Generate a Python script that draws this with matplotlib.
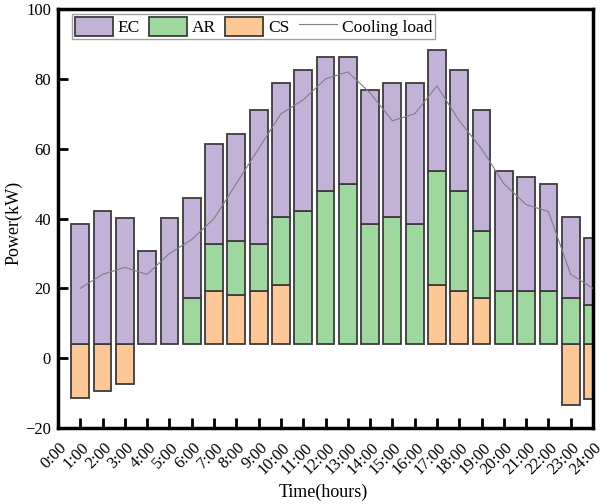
import numpy as np
import matplotlib
matplotlib.use("Agg")
import matplotlib.pyplot as plt
from matplotlib.transforms import blended_transform_factory

plt.rcParams['font.family'] = ['Liberation Serif', 'DejaVu Serif']

hours = np.arange(1, 25)
time_labels = [f"{h}:00" for h in range(25)]

# stacked parts, measured from the common base line
base = 4
cs = [-15.5, -13.5, -11.5, 0, 0, 0, 15.2, 14.2, 15.2, 17.1, 0, 0,
      0, 0, 0, 0, 17.1, 15.2, 13.2, 0, 0, 0, -17.4, -15.6]
ar = [0, 0, 0, 0, 0, 13.3, 13.4, 15.3, 13.4, 19.2, 38.2, 43.9,
      45.9, 34.4, 36.3, 34.4, 32.6, 28.7, 19.3, 15.2, 15.2, 15.2, 13.2, 11.3]
ec = [34.4, 38.2, 36.2, 26.7, 36.2, 28.7, 28.8, 30.8, 38.5, 38.5, 40.4, 38.4,
      36.4, 38.5, 38.5, 40.4, 34.6, 34.7, 34.6, 34.5, 32.7, 30.8, 23.1, 19.2]
cooling_load = [20, 24, 26, 24, 30, 34, 40, 50, 60, 70, 74, 80,
                82, 76, 68, 70, 78, 68, 60, 50, 44, 42, 24, 20]

c_ec = '#c2b2d8'
c_ar = '#9fd89e'
c_cs = '#fdc895'
edge = '#3c3c3c'


def drawStack(ax):
    cs_a = np.array(cs)
    ar_a = np.array(ar)
    ec_a = np.array(ec)
    w = 0.8
    ar_bottom = base + np.maximum(cs_a, 0)
    ec_bottom = ar_bottom + ar_a

    m = cs_a != 0
    ax.bar(hours[m], cs_a[m], w, bottom=base, color=c_cs, edgecolor=edge, linewidth=1.3, zorder=2)
    m = ar_a != 0
    ax.bar(hours[m], ar_a[m], w, bottom=ar_bottom[m], color=c_ar, edgecolor=edge, linewidth=1.3, zorder=2)
    ax.bar(hours, ec_a, w, bottom=ec_bottom, color=c_ec, edgecolor=edge, linewidth=1.3, zorder=2)
    ax.plot(hours, cooling_load, color='#808080', linewidth=0.8, zorder=3)


def main():
    fig = plt.figure(figsize=(6.13, 5.04), dpi=100)
    ax = fig.add_axes([0.0946, 0.1508, 0.8728, 0.8312])
    drawStack(ax)

    ax.set_xlim(0, 24)
    ax.set_ylim(-20, 100)
    ax.set_yticks([-20, 0, 20, 40, 60, 80, 100])
    ax.set_xticks(hours)
    ax.set_xticklabels([])
    ax.tick_params(direction='in', length=7, width=2, labelsize=12)
    ax.tick_params(axis='y', pad=5)
    for s in ax.spines.values():
        s.set_linewidth(2.5)

    # hour labels sit left of the ticks
    trans = blended_transform_factory(ax.transData, ax.transAxes)
    for k, lab in enumerate(time_labels):
        ax.text(k + 0.55, -0.028, lab, transform=trans, rotation=45,
                ha='right', va='top', fontsize=12)

    ax.set_ylabel('Power(kW)', fontsize=13)
    ax.yaxis.set_label_coords(-0.066, 0.49)
    fig.text(0.527, 0.024, 'Time(hours)', ha='center', va='center', fontsize=13)

    handles = [plt.Rectangle((0, 0), 1, 1, facecolor=c, edgecolor=edge, linewidth=1.3)
               for c in (c_ec, c_ar, c_cs)]
    handles.append(plt.Line2D([], [], color='#808080', linewidth=0.8))
    leg = ax.legend(handles, ['EC', 'AR', 'CS', 'Cooling load'], loc='upper left',
                    bbox_to_anchor=(0.026, 0.988), ncol=4, fontsize=12.5, frameon=True,
                    fancybox=False, edgecolor='#888888', handlelength=2.2, handleheight=1.3,
                    handletextpad=0.3, columnspacing=0.5, borderpad=0.15, borderaxespad=0)
    leg.get_frame().set_linewidth(1.0)

    fig.savefig('out.png', dpi=100)


if __name__ == "__main__":
    main()
